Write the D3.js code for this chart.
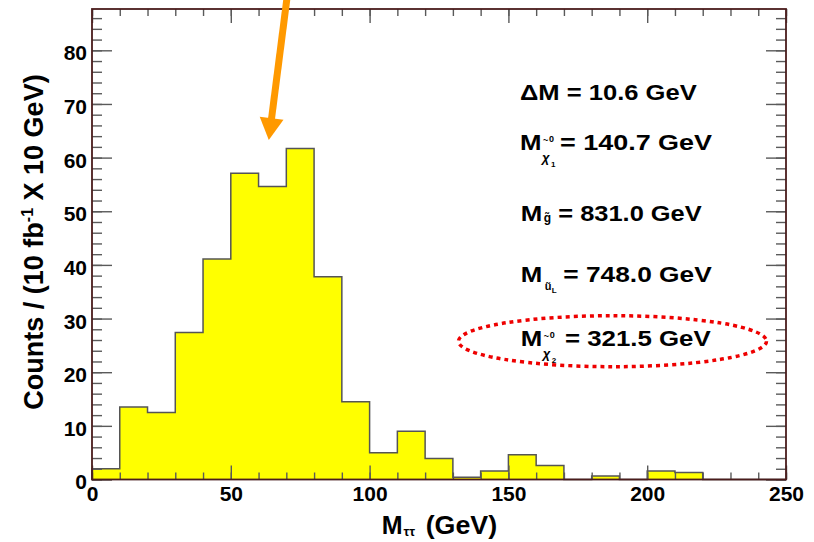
<!DOCTYPE html>
<html>
<head>
<meta charset="utf-8">
<script src="https://cdn.jsdelivr.net/npm/d3@7/dist/d3.min.js"></script>
<style>
  html, body { margin: 0; padding: 0; background: #fff; }
  svg { display: block; }
  text { font-family: "Liberation Sans", Arial, Helvetica, sans-serif; font-weight: bold; fill: #000; }
</style>
</head>
<body>
<svg id="chart" width="814" height="542"></svg>
<script>
// ---- data ----
const binLow = [0,10,20,30,40,50,60,70,80,90,100,110,120,130,140,150,160,170,180,190,200,210,220,230,240];
const counts = [2.0,13.5,12.5,27.4,41.1,57.1,54.6,61.7,37.8,14.5,5.0,9.0,3.9,0.4,1.6,4.6,2.6,0,0.65,0,1.6,1.3,0,0,0];
const binWidth = 10;
const xMajorTicks = [0,50,100,150,200,250];
const xMinorTicks = d3.range(0, 251, 10);
const yMajorTicks = [0,10,20,30,40,50,60,70,80];
const yMinorTicks = d3.range(0, 87, 2);
const xDomain = [0, 250];
const yDomain = [0, 87.7];
const xTitle = ["M", "\u03c4\u03c4", "(GeV)"];
const yTitle = ["Counts / (10 fb", "-1", " X 10 GeV)"];
const annotations = [
  { main: "\u0394M = 10.6 GeV" },
  { sub: "\u03c7", tilde: true, subIdx: "1", sup: "0", rest: "= 140.7 GeV" },
  { sub: "g\u0303", rest: "= 831.0 GeV" },
  { sub: "u\u0303", subIdx: "L", rest: "= 748.0 GeV" },
  { sub: "\u03c7", tilde: true, subIdx: "2", sup: "0", rest: "= 321.5 GeV" }
];

// ---- layout ----
const L = 92, R = 786, T = 9, B = 479.5;
const svg = d3.select("#chart");
const x = d3.scaleLinear().domain(xDomain).range([L, R]);
const y = d3.scaleLinear().domain(yDomain).range([B, T]);

// histogram
const pts = binLow.map((b, i) => [b, counts[i]]);
pts.push([binLow[binLow.length - 1] + binWidth, counts[counts.length - 1]]);
const area = d3.area().x(d => x(d[0])).y0(y(0)).y1(d => y(d[1])).curve(d3.curveStepAfter);
const line = d3.line().x(d => x(d[0])).y(d => y(d[1])).curve(d3.curveStepAfter);
const outline = [[0, 0]].concat(pts);
svg.append("path").attr("d", area(pts)).attr("fill", "#ffff00");
svg.append("path").attr("d", line(outline)).attr("fill", "none").attr("stroke", "#555").attr("stroke-width", 1.5);

// axes
const tickColor = "#5a5a5a";
function styleAxis(g) {
  g.select(".domain").remove();
  g.selectAll(".tick line").attr("stroke", tickColor).attr("stroke-width", 1.4);
  g.selectAll("text").attr("font-size", 21).attr("font-family", "Liberation Sans, Arial, sans-serif").attr("font-weight", "bold").attr("fill", "#000");
}
// bottom
svg.append("g").attr("transform", `translate(0,${B})`)
  .call(d3.axisBottom(x).tickValues(xMinorTicks).tickSize(-7).tickFormat("")).call(styleAxis);
svg.append("g").attr("transform", `translate(0,${B})`)
  .call(d3.axisBottom(x).tickValues(xMajorTicks).tickSize(-14).tickPadding(7).tickFormat(d3.format("d"))).call(styleAxis);
// top
svg.append("g").attr("transform", `translate(0,${T})`)
  .call(d3.axisTop(x).tickValues(xMinorTicks).tickSize(-7).tickFormat("")).call(styleAxis);
svg.append("g").attr("transform", `translate(0,${T})`)
  .call(d3.axisTop(x).tickValues(xMajorTicks).tickSize(-14).tickFormat("")).call(styleAxis);
// left
svg.append("g").attr("transform", `translate(${L},0)`)
  .call(d3.axisLeft(y).tickValues(yMinorTicks).tickSize(-10).tickFormat("")).call(styleAxis);
const yl = svg.append("g").attr("transform", `translate(${L},0)`)
  .call(d3.axisLeft(y).tickValues(yMajorTicks).tickSize(-20).tickPadding(5).tickFormat(d3.format("d"))).call(styleAxis);
yl.selectAll("text").attr("dy", "0.45em");
// right
svg.append("g").attr("transform", `translate(${R},0)`)
  .call(d3.axisRight(y).tickValues(yMinorTicks).tickSize(-10).tickFormat("")).call(styleAxis);
svg.append("g").attr("transform", `translate(${R},0)`)
  .call(d3.axisRight(y).tickValues(yMajorTicks).tickSize(-20).tickFormat("")).call(styleAxis);

// frame
svg.append("rect").attr("x", L).attr("y", T).attr("width", R - L).attr("height", B - T)
  .attr("fill", "none").attr("stroke", "#4a1c1c").attr("stroke-width", 1.8);

// x title
svg.append("text").attr("x", 381.7).attr("y", 534).attr("font-size", 25).text(xTitle[0]);
svg.append("text").attr("x", 403.5).attr("y", 536).attr("font-size", 13)
  .attr("font-family", "DejaVu Sans, sans-serif").attr("font-weight", "normal").text(xTitle[1]);
svg.append("text").attr("x", 425.7).attr("y", 534).attr("font-size", 25)
  .attr("textLength", 71.5).attr("lengthAdjust", "spacingAndGlyphs").text(xTitle[2]);

// y title
const yt = svg.append("text").attr("transform", "translate(43,242) rotate(-90)")
  .attr("text-anchor", "middle").attr("font-size", 27);
yt.append("tspan").text(yTitle[0]);
yt.append("tspan").attr("font-size", 16).attr("dy", -10).text(yTitle[1]);
yt.append("tspan").attr("dy", 10).text(yTitle[2]);

// annotations
const rows = [
  { base: 100, x0: 520, restX: 520, restEnd: 696.7 },
  { base: 150, x0: 520, restX: 560, restEnd: 712 },
  { base: 220.7, x0: 520.7, restX: 558.3, restEnd: 701.7 },
  { base: 281.7, x0: 520.7, restX: 563.3, restEnd: 711.7 },
  { base: 346, x0: 520.7, restX: 565, restEnd: 710.7 }
];
annotations.forEach((a, i) => {
  const r = rows[i];
  if (a.main) {
    svg.append("text").attr("x", r.x0).attr("y", r.base).attr("font-size", 22)
      .attr("textLength", r.restEnd - r.x0).attr("lengthAdjust", "spacingAndGlyphs").text(a.main);
    return;
  }
  svg.append("text").attr("x", r.x0).attr("y", r.base).attr("font-size", 22)
    .attr("textLength", 21.5).attr("lengthAdjust", "spacingAndGlyphs").text("M");
  svg.append("text").attr("x", r.restX).attr("y", r.base).attr("font-size", 22)
    .attr("textLength", r.restEnd - r.restX).attr("lengthAdjust", "spacingAndGlyphs").text(a.rest);
  const sx = r.x0 + 22;
  const g = svg.append("text").attr("font-family", "DejaVu Sans, sans-serif").attr("font-weight", "normal");
  if (a.sup) {
    g.append("tspan").attr("x", sx).attr("y", r.base + 12).attr("font-size", 13).attr("font-style", "italic").text(a.sub);
    g.append("tspan").attr("x", sx + 1).attr("y", r.base - 7).attr("font-size", 9).text("~");
    g.append("tspan").attr("x", sx + 7).attr("y", r.base - 8).attr("font-size", 9).attr("font-weight", "bold").text(a.sup);
    g.append("tspan").attr("x", sx + 9).attr("y", r.base + 17).attr("font-size", 8).attr("font-weight", "bold").text(a.subIdx);
  } else if (!a.subIdx) {
    g.append("tspan").attr("x", sx + 1).attr("y", r.base + 1).attr("font-size", 12).attr("font-weight", "bold").text(a.sub);
  } else {
    g.append("tspan").attr("x", sx + 2).attr("y", r.base + 8).attr("font-size", 11).attr("font-weight", "bold").text(a.sub);
    g.append("tspan").attr("x", sx + 9).attr("y", r.base + 11).attr("font-size", 8).attr("font-weight", "bold").text(a.subIdx);
  }
});

// dotted ellipse
svg.append("ellipse").attr("cx", 612.5).attr("cy", 341.2).attr("rx", 154).attr("ry", 25.5)
  .attr("fill", "none").attr("stroke", "#ee0000").attr("stroke-width", 3.5).attr("stroke-dasharray", "4 4");

// orange arrow
const tip = [268.8, 140], tail = [288, -10];
const dx = tip[0] - tail[0], dy = tip[1] - tail[1], len = Math.hypot(dx, dy);
const u = [dx / len, dy / len], n = [-u[1], u[0]];
const headLen = 22, headHalf = 12;
const base = [tip[0] - headLen * u[0], tip[1] - headLen * u[1]];
svg.append("line").attr("x1", tail[0]).attr("y1", tail[1]).attr("x2", base[0] + 2 * u[0]).attr("y2", base[1] + 2 * u[1])
  .attr("stroke", "#ff9900").attr("stroke-width", 7);
svg.append("path").attr("d", `M${tip[0]},${tip[1]}L${base[0] + headHalf * n[0]},${base[1] + headHalf * n[1]}L${base[0] - headHalf * n[0]},${base[1] - headHalf * n[1]}Z`)
  .attr("fill", "#ff9900");
</script>
</body>
</html>
